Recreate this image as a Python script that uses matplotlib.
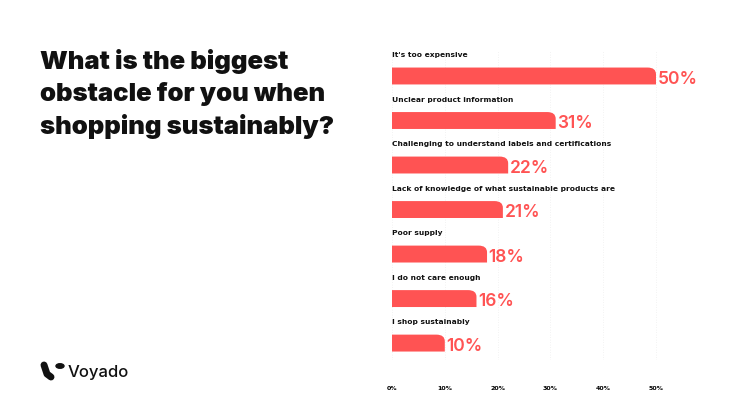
import matplotlib
matplotlib.use("Agg")
import matplotlib.pyplot as plt
from matplotlib.path import Path
from matplotlib.patches import PathPatch, Circle

categories = ["It's too expensive", "Unclear product information",
              "Challenging to understand labels and certifications",
              "Lack of knowledge of what sustainable products are",
              "Poor supply", "I do not care enough", "I shop sustainably"]
values = [50, 31, 22, 21, 18, 16, 10]
ticks = [0, 10, 20, 30, 40, 50]
tick_labels = ["0%", "10%", "20%", "30%", "40%", "50%"]

RED = "#ff5353"
fig = plt.figure(figsize=(7.46, 4.2), dpi=100)
fig.patch.set_facecolor("white")
ax = fig.add_axes([392/746, 1-360/420, 55*5.28/746, 310/420])
ax.set_xlim(0, 55)
ax.set_ylim(6.38, -0.584)
h = 0.38
for i, (c, v) in enumerate(zip(categories, values)):
    top, bot = i - h/2, i + h/2
    rx, ry = 1.6, 0.15
    verts = [(0, bot), (0, top), (v - rx, top), (v, top), (v, top + ry), (v, bot), (0, bot)]
    codes = [Path.MOVETO, Path.LINETO, Path.LINETO, Path.CURVE3, Path.CURVE3, Path.LINETO, Path.CLOSEPOLY]
    ax.add_patch(PathPatch(Path(verts, codes), facecolor=RED, edgecolor="none", zorder=3))
    ax.text(0, i - 0.4, c, fontsize=5.4, fontweight="bold", family="DejaVu Sans",
            va="bottom", ha="left", color="#111")
    ax.text(v + 0.3, i + 0.07, f"{v}%", fontsize=12.5, fontweight="semibold", family="Inter",
            va="center", ha="left", color=RED)
for t in ticks:
    ax.axvline(t, color="#eeeeee", lw=0.6, ls=(0, (1, 2)), zorder=1)
ax.set_xticks(ticks)
ax.set_xticklabels(tick_labels, fontsize=4.5, fontweight="bold")
ax.tick_params(length=0, pad=19)
ax.set_yticks([])
for s in ax.spines.values():
    s.set_visible(False)

fig.text(40/746, 1-49/420, "What is the biggest\nobstacle for you when\nshopping sustainably?",
         fontsize=18.5, fontweight="black", family="Inter", va="top", ha="left",
         linespacing=1.42, color="#111")
fig.text(68/746, 1-372/420, "Voyado", fontsize=12, fontweight="medium", family="Inter",
         va="center", ha="left", color="#111")
fig.add_artist(Circle((60/746, 1-366/420), 4/746, transform=fig.transFigure, color="#111"))
fig.add_artist(plt.Line2D([44/746, 47/746, 51/746], [1-365/420, 1-374/420, 1-377/420],
                          transform=fig.transFigure, color="#111", lw=5, solid_capstyle="round"))
fig.savefig("out.png", dpi=100)
